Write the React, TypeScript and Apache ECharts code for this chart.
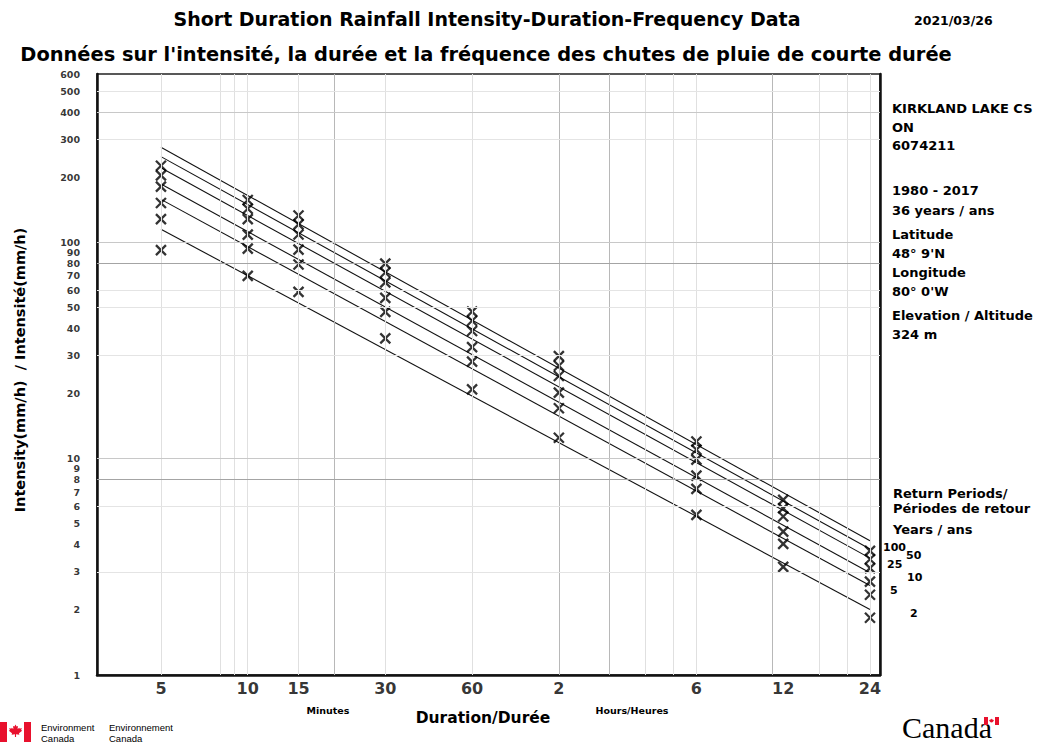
import React, { useEffect, useRef } from "react";
import * as echarts from "echarts";

// ---- data ----
const durations = [5, 10, 15, 30, 60, 120, 360, 720, 1440]; // minutes
const returnPeriods = [2, 5, 10, 25, 50, 100];
const intensity2 = [92, 70, 59, 36, 20.9, 12.5, 5.5, 3.16, 1.84];
const intensity5 = [128, 93.5, 79, 47.7, 28.1, 17.1, 7.25, 4.04, 2.35];
const intensity10 = [152, 108.5, 92.5, 55.4, 32.8, 20.2, 8.35, 4.6, 2.7];
const intensity25 = [181, 128, 108.7, 65.3, 38.9, 24.1, 9.9, 5.4, 3.12];
const intensity50 = [204, 143, 121, 72.5, 43.4, 26.9, 11.0, 5.9, 3.43];
const intensity100 = [226, 157, 133, 79.7, 47.8, 29.8, 12.0, 6.45, 3.75];
const fitStartDuration = 5;
const fitEndDuration = 1440;
const fitAtStart = [115, 158, 186, 221, 249, 275];
const fitAtEnd = [2.01, 2.59, 2.97, 3.47, 3.82, 4.17];

const xTickValues = [5, 10, 15, 30, 60, 120, 360, 720, 1440];
const xTickLabels = ["5", "10", "15", "30", "60", "2", "6", "12", "24"];
const yTickValues = [1, 2, 3, 4, 5, 6, 7, 8, 9, 10, 20, 30, 40, 50, 60, 70, 80, 90, 100, 200, 300, 400, 500, 600];

const vGridLight = [5, 8, 9, 10, 15, 30, 60, 240, 300, 360, 960, 1200, 1440];
const vGridDark = [20, 120, 180, 660];
const hGridLight = [3, 6, 30, 50, 60, 300, 500];
const hGridMid = [10, 100, 400];
const hGridDark = [8, 80];

const stationLines = [
  "KIRKLAND LAKE CS",
  "ON",
  "6074211",
  "1980 - 2017",
  "36 years / ans",
  "Latitude",
  "48° 9'N",
  "Longitude",
  "80° 0'W",
  "Elevation / Altitude",
  "324 m",
];
const stationY = [108, 127, 145, 190, 210, 234, 253, 272, 291, 315, 334];

const allSeriesValues = [intensity2, intensity5, intensity10, intensity25, intensity50, intensity100];
// label placement for the return period tags, same order as returnPeriods
const rpLabelPos = [
  [910, 613],
  [890, 590],
  [907, 577],
  [887, 564],
  [906, 555],
  [883, 547],
];

const FONT = '"DejaVu Sans", "Liberation Sans", Arial, sans-serif';

function txt(text: string, x: number, y: number, size: number, opts: any = {}) {
  const style: any = {
    text,
    fill: opts.color || "#000",
    font: `${opts.weight || "bold"} ${size}px ${opts.family || FONT}`,
    align: opts.align || "left",
    verticalAlign: "middle",
    textAlign: opts.align || "left",
    textVerticalAlign: "middle",
  };
  if (opts.lineHeight) style.lineHeight = opts.lineHeight;
  return {
    type: "text",
    x,
    y,
    rotation: opts.rotation || 0,
    silent: true,
    style,
  };
}

const leafPts = [
  [0, -1], [0.15, -0.7], [0.35, -0.8], [0.3, -0.35], [0.55, -0.55], [0.6, -0.4], [0.9, -0.5],
  [0.8, -0.2], [0.95, -0.1], [0.5, 0.25], [0.55, 0.45], [0.08, 0.4], [0.08, 0.8], [-0.08, 0.8],
  [-0.08, 0.4], [-0.55, 0.45], [-0.5, 0.25], [-0.95, -0.1], [-0.8, -0.2], [-0.9, -0.5], [-0.6, -0.4],
  [-0.55, -0.55], [-0.3, -0.35], [-0.35, -0.8], [-0.15, -0.7],
];

function buildOption() {
  const gridMarks: any[] = [];
  vGridLight.forEach((v) => gridMarks.push({ xAxis: v, lineStyle: { color: "#e0e0e0", width: 1, type: "solid" } }));
  vGridDark.forEach((v) => gridMarks.push({ xAxis: v, lineStyle: { color: "#b8b8b8", width: 1, type: "solid" } }));
  hGridLight.forEach((v) => gridMarks.push({ yAxis: v, lineStyle: { color: "#e4e4e4", width: 1, type: "solid" } }));
  hGridMid.forEach((v) => gridMarks.push({ yAxis: v, lineStyle: { color: "#c8c8c8", width: 1, type: "solid" } }));
  hGridDark.forEach((v) => gridMarks.push({ yAxis: v, lineStyle: { color: "#a4a4a4", width: 1, type: "solid" } }));

  const series: any[] = [
    {
      type: "line",
      data: [],
      z: 1,
      silent: true,
      markLine: { silent: true, symbol: ["none", "none"], label: { show: false }, animation: false, data: gridMarks },
    },
  ];

  returnPeriods.forEach((rp, i) => {
    series.push({
      type: "line",
      name: `fit${rp}`,
      data: [
        [fitStartDuration, fitAtStart[i]],
        [fitEndDuration, fitAtEnd[i]],
      ],
      showSymbol: false,
      symbol: "none",
      silent: true,
      z: 3,
      lineStyle: { color: "#111", width: 1.1 },
    });
    series.push({
      type: "scatter",
      name: `${rp} yr`,
      data: durations.map((d, j) => [d, allSeriesValues[i][j]]),
      symbol: "path://M0 0L10 10M10 0L0 10",
      symbolSize: 10,
      silent: true,
      z: 4,
      itemStyle: { color: "transparent", borderColor: "#000", borderWidth: 2.3 },
    });
  });

  series.push({
    type: "scatter",
    data: yTickValues.map((v) => [3, v]),
    symbolSize: 0,
    clip: false,
    silent: true,
    z: 5,
    label: {
      show: true,
      position: "left",
      distance: 17,
      formatter: (p: any) => String(p.value[1]),
      fontFamily: FONT,
      fontWeight: "bold",
      fontSize: 9.5,
      lineHeight: 9,
      color: "#000",
    },
  });
  series.push({
    type: "scatter",
    data: xTickValues.map((v, i) => ({ value: [v, 1], name: xTickLabels[i] })),
    symbolSize: 0,
    clip: false,
    silent: true,
    z: 5,
    label: {
      show: true,
      position: "bottom",
      distance: 5,
      formatter: "{b}",
      fontFamily: FONT,
      fontWeight: "bold",
      fontSize: 16,
      color: "#000",
    },
  });

  const graphics: any[] = [
    txt("Short Duration Rainfall Intensity-Duration-Frequency Data", 487, 19, 19, { align: "center" }),
    txt("2021/03/26", 914, 20, 12.5),
    txt("Données sur l'intensité, la durée et la fréquence des chutes de pluie de courte durée", 486, 54, 19.4, { align: "center" }),
    txt("Intensity(mm/h)  / Intensité(mm/h)", 20, 370, 14.5, { align: "center", rotation: Math.PI / 2 }),
    txt("Minutes", 328, 710, 9.5, { align: "center" }),
    txt("Duration/Durée", 483, 718, 15.5, { align: "center" }),
    txt("Hours/Heures", 632, 710, 9.5, { align: "center" }),
    txt("Return Periods/", 893, 493, 13),
    txt("Périodes de retour", 893, 508, 13),
    txt("Years / ans", 893, 529, 13),
  ];
  stationLines.forEach((s, i) => graphics.push(txt(s, 892, stationY[i], 13)));
  returnPeriods.forEach((rp, i) => graphics.push(txt(String(rp), rpLabelPos[i][0], rpLabelPos[i][1], 11, { lineHeight: 9 })));

  // Environment Canada signature
  graphics.push({ type: "rect", shape: { x: 0, y: 722, width: 7, height: 20 }, style: { fill: "#e8112d" }, silent: true });
  graphics.push({ type: "rect", shape: { x: 24, y: 722, width: 7, height: 20 }, style: { fill: "#e8112d" }, silent: true });
  graphics.push({
    type: "polygon",
    shape: { points: leafPts.map(([px, py]) => [15.5 + px * 7, 731.5 + py * 7]) },
    style: { fill: "#e8112d" },
    silent: true,
  });
  const smallFam = '"Liberation Sans", Arial, sans-serif';
  graphics.push(txt("Environment", 41, 727, 9.5, { weight: "normal", family: smallFam, lineHeight: 10 }));
  graphics.push(txt("Canada", 41, 738, 9.5, { weight: "normal", family: smallFam, lineHeight: 10 }));
  graphics.push(txt("Environnement", 109, 727, 9.5, { weight: "normal", family: smallFam, lineHeight: 10 }));
  graphics.push(txt("Canada", 109, 738, 9.5, { weight: "normal", family: smallFam, lineHeight: 10 }));

  // Canada wordmark
  graphics.push(txt("Canada", 902, 727, 30, { weight: "normal", family: '"Liberation Serif", "DejaVu Serif", serif', lineHeight: 24 }));
  graphics.push({ type: "rect", shape: { x: 984, y: 717, width: 4, height: 8 }, style: { fill: "#e8112d" }, silent: true });
  graphics.push({ type: "rect", shape: { x: 995, y: 717, width: 4, height: 8 }, style: { fill: "#e8112d" }, silent: true });
  graphics.push({
    type: "polygon",
    shape: { points: leafPts.map(([px, py]) => [991.5 + px * 2.6, 721 + py * 2.6]) },
    style: { fill: "#e8112d" },
    silent: true,
  });

  const axisCommon = {
    type: "log",
    logBase: 10,
    axisTick: { show: false },
    axisLabel: { show: false },
    splitLine: { show: false },
    minorTick: { show: false },
    minorSplitLine: { show: false },
  };

  return {
    animation: false,
    backgroundColor: "#ffffff",
    grid: { left: 97, top: 74, right: 159, bottom: 69, show: true, borderColor: "#222", borderWidth: 1.5, backgroundColor: "transparent" },
    xAxis: {
      ...axisCommon,
      min: 3,
      max: 1560,
      axisLine: { show: true, onZero: false, lineStyle: { color: "#111", width: 2.5 } },
    },
    yAxis: [
      { ...axisCommon, min: 1, max: 600, position: "left", axisLine: { show: true, onZero: false, lineStyle: { color: "#111", width: 2.5 } } },
      { ...axisCommon, min: 1, max: 600, position: "right", axisLine: { show: true, onZero: false, lineStyle: { color: "#111", width: 2.5 } } },
    ],
    series,
    graphic: graphics,
  };
}

export default function App() {
  const ref = useRef<HTMLDivElement>(null);
  useEffect(() => {
    document.body.style.margin = "0";
    const chart = echarts.init(ref.current!, null, { renderer: "svg" });
    chart.setOption(buildOption() as any);
    return () => chart.dispose();
  }, []);
  return (
    <div
      ref={ref}
      style={{ position: "absolute", left: 0, top: 0, width: 1039, height: 744, background: "#fff" }}
    />
  );
}
